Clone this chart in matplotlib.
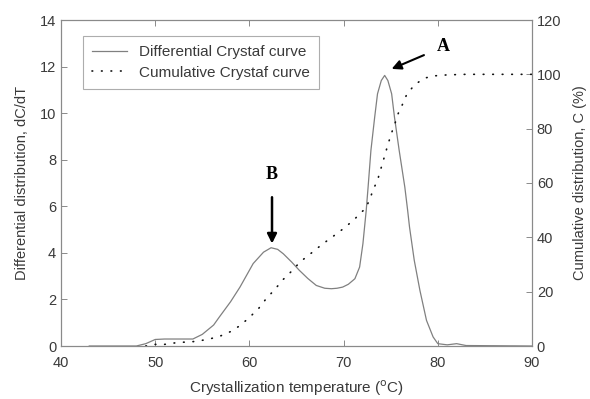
import matplotlib
matplotlib.use("Agg")
import matplotlib.pyplot as plt

plt.rcParams['font.family'] = ['Liberation Sans', 'DejaVu Sans']

# Differential Crystaf curve (dC/dT)
T_diff = [43, 48, 49, 50, 51, 54, 55, 56.2, 56.8, 58, 59, 60.4, 61.5, 62.3, 63.0, 63.6,
          64.5, 65.3, 66.2, 67.1, 68.0, 68.7, 69.3, 69.9, 70.5, 71.0, 71.2, 71.7, 72.05,
          72.4, 72.6, 72.9, 73.3, 73.6, 74.0, 74.36, 74.7, 75.1, 75.4, 75.9, 76.5, 76.8,
          77.0, 77.5, 78.1, 78.8, 79.5, 80.0, 81, 82, 83, 90]
dCdT = [0, 0, 0.1, 0.28, 0.3, 0.3, 0.5, 0.9, 1.24, 1.9, 2.53, 3.54, 4.03, 4.22, 4.15, 3.96,
        3.6, 3.25, 2.9, 2.6, 2.48, 2.46, 2.48, 2.53, 2.65, 2.82, 2.89, 3.39, 4.39,
        5.82, 6.82, 8.4, 9.83, 10.83, 11.4, 11.62, 11.4, 10.83, 9.83, 8.4, 6.82, 5.82,
        5.1, 3.68, 2.39, 1.1, 0.39, 0.1, 0.05, 0.1, 0.02, 0]

# Cumulative Crystaf curve (C, %)
T_cum = [49, 50, 51, 52, 53, 54, 55, 56, 57, 58, 59, 60, 61, 61.8, 62.7, 63.5, 64.5,
         65.4, 66.5, 67.5, 68.5, 69.5, 70.5, 71.5, 72.4, 72.8, 73.2, 73.6, 74.2, 74.5,
         74.8, 75.1, 75.5, 75.8, 76.3, 76.7, 77.5, 78.5, 79.5, 81, 83, 85, 87, 90]
C_cum = [0, 0.6, 0.6, 1.1, 1.4, 1.6, 2.1, 2.8, 3.8, 5.3, 7.5, 10.5, 13.9, 17.5, 20.8,
         24.2, 27.6, 31.0, 34.0, 36.8, 39.4, 41.9, 44.7, 47.8, 51.0, 54.3, 58.0, 61.0,
         68.1, 71.7, 75.2, 78.5, 82.4, 85.6, 89.3, 92.6, 96.0, 98.5, 99.4, 99.8, 100,
         100, 100, 100]

x_ticks = [40, 50, 60, 70, 80, 90]
y_left_ticks = [0, 2, 4, 6, 8, 10, 12, 14]
y_right_ticks = [0, 20, 40, 60, 80, 100, 120]

fig = plt.figure(figsize=(5.90, 3.99), dpi=100)
ax = fig.add_axes([61/590, 53/399, 471/590, 326/399])
ax2 = ax.twinx()

frame_col = '#8a8a8a'
txt_col = '#3a3a3a'

l1, = ax.plot(T_diff, dCdT, color='#808080', lw=0.9, label='Differential Crystaf curve')
l2, = ax2.plot(T_cum, C_cum, color='#111111', lw=1.2, linestyle=(0, (0.4, 5.3)),
               dash_capstyle='round', label='Cumulative Crystaf curve')

ax.set_xlim(40, 90)
ax.set_ylim(0, 14)
ax2.set_ylim(0, 120)
ax.set_xticks(x_ticks)
ax.set_yticks(y_left_ticks)
ax2.set_yticks(y_right_ticks)

for a in (ax, ax2):
    for s in a.spines.values():
        s.set_color(frame_col)
        s.set_linewidth(0.8)
ax.tick_params(axis='both', direction='in', colors=frame_col, labelcolor=txt_col,
               labelsize=10.5, length=4, top=True, width=0.7)
ax.tick_params(axis='x', pad=7)
ax2.tick_params(axis='y', direction='in', colors=frame_col, labelcolor=txt_col,
                labelsize=10.5, length=4, width=0.7)

ax.set_xlabel('Crystallization temperature ($^{\\rm o}$C)', fontsize=11, color=txt_col)
ax.xaxis.set_label_coords(0.5, -0.1)
ax.set_ylabel('Differential distribution, dC/dT', fontsize=10.5, color=txt_col, labelpad=8)
ax2.set_ylabel('Cumulative distribution, C (%)', fontsize=10.5, color=txt_col, labelpad=8)

leg = ax.legend(handles=[l1, l2], loc='upper left', bbox_to_anchor=(0.03, 0.975),
                fontsize=11, frameon=True, fancybox=False, handlelength=2.3,
                handletextpad=0.8, borderpad=0.6, labelspacing=0.45)
leg.get_frame().set_edgecolor('#999999')
leg.get_frame().set_linewidth(0.8)
for t in leg.get_texts():
    t.set_color(txt_col)

ax.annotate('A', xy=(75.1, 11.9), xytext=(80.6, 12.85), fontsize=13, fontweight='bold',
            family='Liberation Serif', ha='center', va='center',
            arrowprops=dict(arrowstyle='-|>', color='black', lw=1.5, mutation_scale=14,
                            shrinkA=8, shrinkB=0))
ax.annotate('B', xy=(62.4, 4.4), xytext=(62.4, 7.35), fontsize=13, fontweight='bold',
            family='Liberation Serif', ha='center', va='center',
            arrowprops=dict(arrowstyle='-|>', color='black', lw=1.8, mutation_scale=14,
                            shrinkA=8, shrinkB=0))

fig.savefig('out.png', dpi=100)
